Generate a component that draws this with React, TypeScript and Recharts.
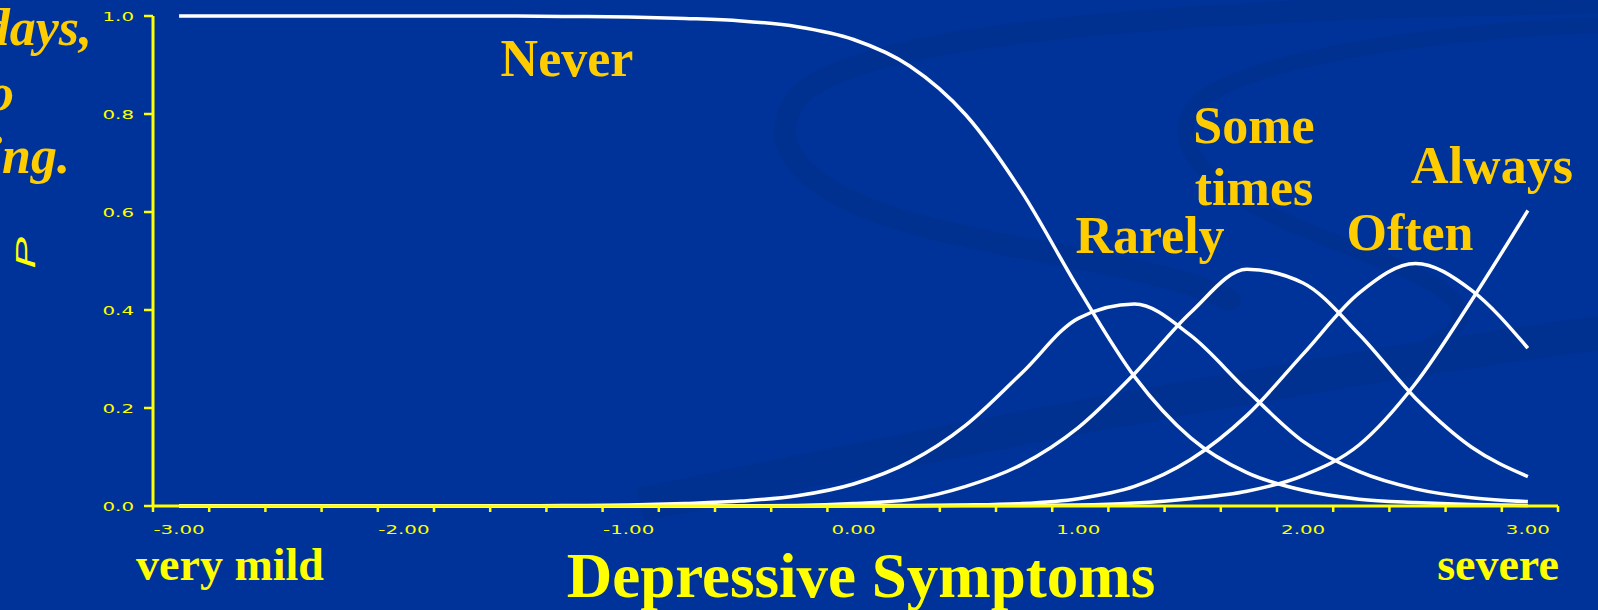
import React from "react";
import { LineChart, Line, XAxis, YAxis } from "recharts";

// ---- data ----
const theta = [-3, -2.75, -2.5, -2.25, -2, -1.75, -1.5, -1.25, -1, -0.75, -0.5, -0.25, 0, 0.25, 0.5, 0.75, 1, 1.25, 1.5, 1.75, 2, 2.25, 2.5, 2.75, 3];
const never = [1.0, 1.0, 1.0, 1.0, 1.0, 1.0, 1.0, 0.999, 0.998, 0.995, 0.99, 0.978, 0.952, 0.898, 0.798, 0.64, 0.444, 0.264, 0.139, 0.068, 0.032, 0.014, 0.007, 0.003, 0.001];
const rarely = [0, 0, 0, 0, 0, 0, 0, 0.001, 0.002, 0.005, 0.01, 0.021, 0.045, 0.09, 0.165, 0.272, 0.383, 0.412, 0.348, 0.236, 0.132, 0.07, 0.035, 0.017, 0.009];
const sometimes = [0, 0, 0, 0, 0, 0, 0, 0, 0, 0, 0, 0.001, 0.005, 0.013, 0.04, 0.085, 0.16, 0.27, 0.395, 0.483, 0.455, 0.35, 0.22, 0.12, 0.06];
const often = [0, 0, 0, 0, 0, 0, 0, 0, 0, 0, 0, 0, 0.001, 0.001, 0.002, 0.005, 0.015, 0.04, 0.095, 0.185, 0.31, 0.435, 0.495, 0.44, 0.322];
const always = [0, 0, 0, 0, 0, 0, 0, 0, 0, 0, 0, 0, 0, 0, 0.001, 0.001, 0.002, 0.006, 0.015, 0.03, 0.062, 0.125, 0.25, 0.42, 0.603];

const xLabelTicks = [-3, -2, -1, 0, 1, 2, 3];
const yTicks = [0, 0.2, 0.4, 0.6, 0.8, 1.0];
const xDomain: [number, number] = [-3.116, 3.134];
const minorStep = 0.25;
const minorCount = 26;
const minorTicks = Array.from({ length: minorCount }, (_, k) => +(xDomain[0] + k * minorStep).toFixed(3));

const data = theta.map((t, i) => ({
  theta: t,
  never: never[i],
  rarely: rarely[i],
  sometimes: sometimes[i],
  often: often[i],
  always: always[i],
}));

const BG = "#003399";
const AXIS = "#ffff00";
const GOLD = "#ffcc00";
const YELLOW = "#ffff00";
const SERIF = "'Liberation Serif', 'Times New Roman', serif";
const TICKFONT = "'DejaVu Sans', Verdana, sans-serif";

const isLabel = (v: number) => xLabelTicks.some((t) => Math.abs(t - v) < 1e-6);

const XTick = (props: any) => {
  const { x, y, payload } = props;
  const v = payload.value as number;
  if (isLabel(v)) {
    return (
      <g transform={`translate(${x},${y + 28}) scale(1.65,1)`}>
        <text x={0} y={0} textAnchor="middle" fill={AXIS} fontSize={12} fontFamily={TICKFONT}>
          {v.toFixed(2)}
        </text>
      </g>
    );
  }
  return <line x1={x} y1={y} x2={x} y2={y + 6} stroke={AXIS} strokeWidth={2.5} />;
};

const YTick = (props: any) => {
  const { x, y, payload } = props;
  const v = payload.value as number;
  return (
    <g transform={`translate(${x},${y + 4.5}) scale(1.65,1)`}>
      <text x={0} y={0} textAnchor="end" fill={AXIS} fontSize={12} fontFamily={TICKFONT}>
        {v.toFixed(1)}
      </text>
    </g>
  );
};

const series = ["never", "rarely", "sometimes", "often", "always"];

export default function App() {
  return (
    <div
      style={{
        position: "fixed",
        left: 0,
        top: 0,
        width: 1598,
        height: 610,
        background: BG,
        overflow: "hidden",
      }}
    >
      <svg width={1598} height={610} style={{ position: "absolute", left: 0, top: 0 }}>
        <g fill="none" stroke="#00318f" strokeLinecap="round" opacity={0.75}>
          <path d="M1620,2 C1300,8 900,20 805,90 C760,135 790,185 900,220 C1020,255 1150,262 1230,300" strokeWidth={22} />
          <path d="M1620,24 C1450,30 1260,55 1200,100 C1160,140 1200,190 1330,240 C1440,280 1500,310 1430,345" strokeWidth={16} />
          <path d="M640,505 C900,450 1250,380 1620,330" strokeWidth={34} strokeLinecap="butt" />
        </g>
      </svg>
      <div style={{ position: "absolute", left: 0, top: 0 }}>
        <LineChart width={1598} height={610} data={data} margin={{ top: 16, right: 40, bottom: 74, left: 0 }}>
          <XAxis
            dataKey="theta"
            type="number"
            domain={xDomain}
            ticks={[...minorTicks, ...xLabelTicks]}
            interval={0}
            tick={<XTick />}
            tickLine={false}
            tickSize={0}
            tickMargin={0}
            height={30}
            axisLine={{ stroke: AXIS, strokeWidth: 3 }}
            allowDataOverflow
          />
          <YAxis
            type="number"
            domain={[0, 1]}
            ticks={yTicks}
            interval={0}
            width={153}
            tick={<YTick />}
            tickSize={9}
            tickMargin={10}
            tickLine={{ stroke: AXIS, strokeWidth: 2.5 }}
            axisLine={{ stroke: AXIS, strokeWidth: 3 }}
          />
          {series.map((k) => (
            <Line
              key={k}
              dataKey={k}
              type="monotone"
              stroke="#ffffff"
              strokeWidth={3.5}
              dot={false}
              activeDot={false}
              isAnimationActive={false}
            />
          ))}
        </LineChart>
      </div>
      <svg width={1598} height={610} style={{ position: "absolute", left: 0, top: 0, pointerEvents: "none" }}>
        <g fontFamily={SERIF} fontWeight="bold" fill={GOLD} fontSize={52} textAnchor="middle">
          <text x={567} y={76}>Never</text>
          <text x={1254} y={143}>Some</text>
          <text x={1254} y={205}>times</text>
          <text x={1150} y={253}>Rarely</text>
          <text x={1410} y={250}>Often</text>
          <text x={1492} y={183}>Always</text>
        </g>
        <g fontFamily={SERIF} fontWeight="bold" fontStyle="italic" fill={GOLD} fontSize={52} textAnchor="end">
          <text x={92} y={45}>7 days,</text>
          <text x={14} y={110}>to</text>
          <text x={70} y={173}>feeling.</text>
        </g>
        <g transform="translate(25,253) rotate(-90) scale(1.7,1)">
          <text x={0} y={0} textAnchor="middle" dominantBaseline="central" fill={YELLOW} fontSize={28} fontStyle="italic" fontFamily="'Liberation Sans', Arial, sans-serif">
            P
          </text>
        </g>
        <g fontFamily={SERIF} fontWeight="bold" fill={YELLOW} textAnchor="middle">
          <text x={230} y={580} fontSize={46}>very mild</text>
          <text x={861} y={597} fontSize={63}>Depressive Symptoms</text>
          <text x={1498} y={580} fontSize={46}>severe</text>
        </g>
      </svg>
    </div>
  );
}
